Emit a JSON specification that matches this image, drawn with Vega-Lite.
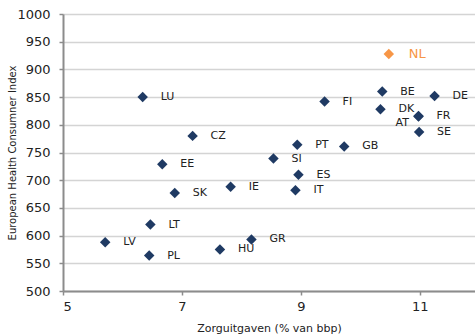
{
  "$schema": "https://vega.github.io/schema/vega-lite/v6.json",
  "autosize": "none",
  "width": 412,
  "height": 277,
  "padding": {"left": 63, "top": 14, "right": 0, "bottom": 44},
  "background": "white",
  "config": {
    "view": {"stroke": null},
    "font": "DejaVu Sans",
    "axis": {"labelFont": "DejaVu Sans", "titleFont": "DejaVu Sans", "labelColor": "#222222", "titleColor": "#222222", "titleFontWeight": "normal"}
  },
  "data": {
    "values": [
      {"land": "LU", "zorg": 6.34, "ehci": 850, "groep": "EU"},
      {"land": "CZ", "zorg": 7.18, "ehci": 780, "groep": "EU"},
      {"land": "EE", "zorg": 6.67, "ehci": 729, "groep": "EU"},
      {"land": "SK", "zorg": 6.88, "ehci": 677, "groep": "EU"},
      {"land": "LT", "zorg": 6.47, "ehci": 620, "groep": "EU"},
      {"land": "LV", "zorg": 5.71, "ehci": 588, "groep": "EU"},
      {"land": "PL", "zorg": 6.45, "ehci": 564, "groep": "EU"},
      {"land": "HU", "zorg": 7.64, "ehci": 575, "groep": "EU"},
      {"land": "GR", "zorg": 8.17, "ehci": 593, "groep": "EU"},
      {"land": "IE", "zorg": 7.82, "ehci": 688, "groep": "EU"},
      {"land": "SI", "zorg": 8.54, "ehci": 739, "groep": "EU"},
      {"land": "PT", "zorg": 8.94, "ehci": 764, "groep": "EU"},
      {"land": "GB", "zorg": 9.73, "ehci": 761, "groep": "EU"},
      {"land": "ES", "zorg": 8.96, "ehci": 710, "groep": "EU"},
      {"land": "IT", "zorg": 8.91, "ehci": 682, "groep": "EU"},
      {"land": "FI", "zorg": 9.40, "ehci": 842, "groep": "EU"},
      {"land": "BE", "zorg": 10.37, "ehci": 860, "groep": "EU"},
      {"land": "DK", "zorg": 10.34, "ehci": 828, "groep": "EU"},
      {"land": "DE", "zorg": 11.25, "ehci": 852, "groep": "EU"},
      {"land": "AT", "zorg": 10.98, "ehci": 815, "groep": "EU"},
      {"land": "FR", "zorg": 10.98, "ehci": 816, "groep": "EU"},
      {"land": "SE", "zorg": 10.99, "ehci": 787, "groep": "EU"},
      {"land": "NL", "zorg": 10.48, "ehci": 928, "groep": "NL"}
    ]
  },
  "encoding": {
    "x": {
      "field": "zorg", "type": "quantitative",
      "scale": {"domain": [5, 11.93], "nice": false, "zero": false},
      "axis": {
        "title": "Zorguitgaven (% van bbp)", "titleFontSize": 11, "titlePadding": 9,
        "values": [5, 7, 9, 11], "format": "d", "labelFontSize": 13, "labelPadding": 5,
        "grid": false, "domainColor": "#8c8c8c", "domainWidth": 2,
        "tickColor": "#8c8c8c", "tickSize": 4, "tickWidth": 1.5
      }
    },
    "y": {
      "field": "ehci", "type": "quantitative",
      "scale": {"domain": [500, 1000], "nice": false, "zero": false},
      "axis": {
        "title": "European Health Consumner Index", "titleFontSize": 10, "titlePadding": -1,
        "values": [500, 550, 600, 650, 700, 750, 800, 850, 900, 950, 1000],
        "format": "d", "labelFontSize": 13, "labelPadding": 9,
        "grid": true, "gridColor": "#d4d4d4", "gridWidth": 1.5,
        "domainColor": "#8c8c8c", "domainWidth": 2,
        "tickColor": "#8c8c8c", "tickSize": 4, "tickWidth": 1.5
      }
    }
  },
  "layer": [
    {
      "mark": {"type": "point", "shape": "diamond", "filled": true, "size": 110, "opacity": 1},
      "encoding": {
        "color": {
          "field": "groep", "type": "nominal",
          "scale": {"domain": ["EU", "NL"], "range": ["#1f3a63", "#f79646"]},
          "legend": null
        }
      }
    },
    {
      "transform": [{"filter": "datum.land !== 'AT' && datum.land !== 'NL'"}],
      "mark": {"type": "text", "align": "left", "baseline": "middle", "dx": 18, "fontSize": 11, "font": "DejaVu Sans", "color": "#222222"},
      "encoding": {"text": {"field": "land"}}
    },
    {
      "transform": [{"filter": "datum.land === 'AT'"}],
      "mark": {"type": "text", "align": "left", "baseline": "middle", "dx": -23, "dy": 7, "fontSize": 11, "font": "DejaVu Sans", "color": "#222222"},
      "encoding": {"text": {"field": "land"}}
    },
    {
      "transform": [{"filter": "datum.land === 'NL'"}],
      "mark": {"type": "text", "align": "left", "baseline": "middle", "dx": 20, "fontSize": 13, "font": "DejaVu Sans", "color": "#f79646"},
      "encoding": {"text": {"field": "land"}}
    }
  ]
}
